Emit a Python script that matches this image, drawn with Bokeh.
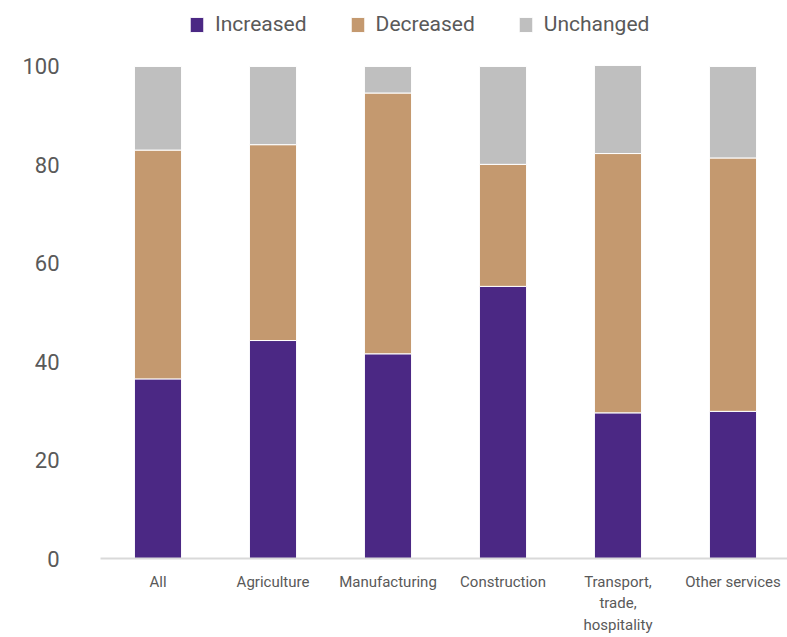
from bokeh.plotting import figure
from bokeh.models import Range1d, Legend, LegendItem, FixedTicker, ColumnDataSource
from bokeh.embed import file_html
from bokeh.resources import INLINE

# Share of firms by sector, percent
sectors = ["All", "Agriculture", "Manufacturing", "Construction",
           "Transport,\ntrade,\nhospitality", "Other services"]
increased = [36.5, 44.3, 41.6, 55.3, 29.6, 29.9]
decreased = [46.5, 39.8, 53.0, 24.8, 52.7, 51.5]
unchanged = [17.0, 15.9, 5.4, 19.9, 17.9, 18.6]

series = ["Increased", "Decreased", "Unchanged"]
colors = ["#4B2884", "#C4996F", "#BFBFBF"]

FONT = "Roboto"
TEXT = "#595959"

xs = [i + 0.5 for i in range(len(sectors))]
src = ColumnDataSource(dict(x=xs, Increased=increased,
                            Decreased=decreased, Unchanged=unchanged))

p = figure(width=787, height=637, output_backend="svg", toolbar_location=None,
           x_range=Range1d(0, 5.974), y_range=Range1d(0, 113.4),
           min_border_left=100, min_border_right=0,
           min_border_top=0, min_border_bottom=79)
p.outline_line_color = None
p.background_fill_color = "white"
p.border_fill_color = "white"

renderers = p.vbar_stack(series, x="x", width=0.41, source=src, color=colors,
                         line_color="white", line_width=1)

p.xgrid.grid_line_color = None
p.ygrid.grid_line_color = None

# y axis: labels only
p.yaxis.ticker = FixedTicker(ticks=[0, 20, 40, 60, 80, 100])
p.yaxis.axis_line_color = None
p.yaxis.major_tick_line_color = None
p.yaxis.minor_tick_line_color = None
p.yaxis.major_label_text_font = FONT
p.yaxis.major_label_text_font_size = "22px"
p.yaxis.major_label_text_color = TEXT
p.yaxis.major_label_standoff = 35

# x axis: category names under each bar
p.xaxis.ticker = FixedTicker(ticks=xs)
p.xaxis.major_label_overrides = {x: s for x, s in zip(xs, sectors)}
p.xaxis.axis_line_color = "#D9D9D9"
p.xaxis.axis_line_width = 2
p.xaxis.major_tick_line_color = None
p.xaxis.minor_tick_line_color = None
p.xaxis.major_label_text_font = FONT
p.xaxis.major_label_text_font_size = "15px"
p.xaxis.major_label_text_color = TEXT
p.xaxis.major_label_standoff = 8

legend = Legend(items=[LegendItem(label=s, renderers=[r]) for s, r in zip(series, renderers)],
                orientation="horizontal", location=(88, 522),
                label_text_font=FONT, label_text_font_size="21px",
                label_text_color=TEXT, glyph_width=17, glyph_height=19,
                label_standoff=10, spacing=42, padding=3, margin=0,
                border_line_color=None, background_fill_alpha=0)
p.add_layout(legend, "center")

open("out.html", "w").write(file_html(p, INLINE))
